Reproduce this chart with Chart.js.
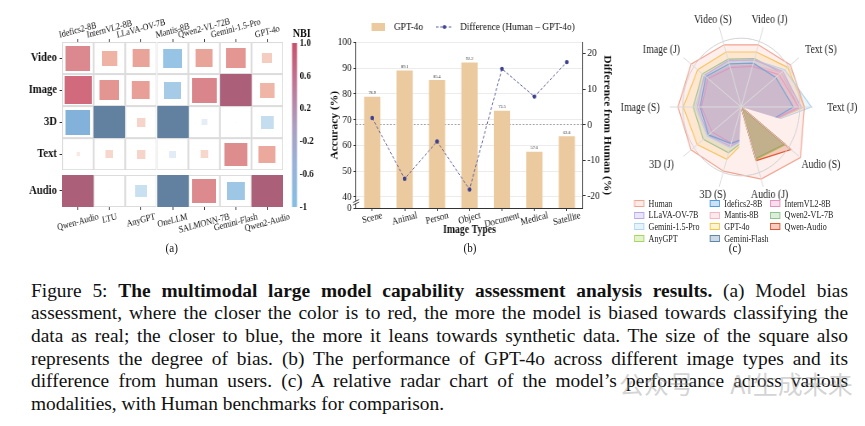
<!DOCTYPE html>
<html><head><meta charset="utf-8">
<script src="https://cdn.jsdelivr.net/npm/chart.js@4"></script>
<style>
html,body{margin:0;padding:0;background:#fff;width:865px;height:426px;overflow:hidden;position:relative;}
#panels{position:absolute;left:0;top:0;width:1018px;height:272px;transform:scaleX(0.85);transform-origin:0 0;}
#panels canvas{position:absolute;}
.t{position:absolute;font-family:'Liberation Serif','Times New Roman',serif;color:#111;white-space:nowrap;}
.ctr{transform:translate(-50%,-50%);}
#caption{position:absolute;left:31px;top:279.6px;width:817px;font-family:'Liberation Serif','Times New Roman',serif;font-size:19.4px;line-height:22.7px;color:#111;}
#caption .ln{white-space:nowrap;display:block;}
.lg{position:absolute;font-family:'Liberation Serif','Times New Roman',serif;font-size:9.5px;color:#222;white-space:nowrap;line-height:10px;}
.lgbox{position:absolute;width:12px;height:7px;box-sizing:border-box;border:1.2px solid;}
#wm{position:absolute;left:619px;top:368px;font-family:'Noto Sans CJK SC',sans-serif;font-size:25px;line-height:30px;color:rgba(150,150,150,0.42);white-space:nowrap;}
</style></head>
<body>
<div id="panels">
  <canvas id="heat" style="left:0;top:0" width="350" height="235"></canvas>
  <canvas id="cbar" style="left:338px;top:30px" width="60" height="190"></canvas>
  <div class="t ctr" style="left:355px;top:33px;font-weight:bold;font-size:12px">NBI</div>
  <canvas id="bars" style="left:379px;top:8px" width="350" height="240"></canvas>
  <canvas id="radar" style="left:723.5px;top:0" width="294" height="200"></canvas>
  <div id="radarLegend"></div>
  <div class="t ctr" style="left:202px;top:248.3px;font-size:13px">(a)</div>
  <div class="t ctr" style="left:553px;top:248.3px;font-size:13px">(b)</div>
  <div class="t ctr" style="left:864.7px;top:248.3px;font-size:13px">(c)</div>
</div>
<div id="caption">
  <div class="ln"><span>Figure 5: <b>The multimodal large model capability assessment analysis results.</b> (a) Model bias</span></div>
  <div class="ln"><span>assessment, where the closer the color is to red, the more the model is biased towards classifying the</span></div>
  <div class="ln"><span>data as real; the closer to blue, the more it leans towards synthetic data. The size of the square also</span></div>
  <div class="ln"><span>represents the degree of bias. (b) The performance of GPT-4o across different image types and its</span></div>
  <div class="ln"><span>difference from human users. (c) A relative radar chart of the model’s performance across various</span></div>
  <div class="ln"><span>modalities, with Human benchmarks for comparison.</span></div>
</div>
<div id="wm">公众号 · AI生成未来</div>
<script>
// ---------------- DATA ----------------
// (a) heatmap: Normalized Bias Index
const modalities = ['Video', 'Image', '3D', 'Text', 'Audio'];
const visualModels = ['Idefics2-8B', 'InternVL2-8B', 'LLaVA-OV-7B', 'Mantis-8B', 'Qwen2-VL-72B', 'Gemini-1.5-Pro', 'GPT-4o'];
const audioModels = ['Qwen-Audio', 'LTU', 'AnyGPT', 'OneLLM', 'SALMONN-7B', 'Gemini-Flash', 'Qwen2-Audio'];
const nbiVideo = [0.77, 0.48, 0.55, -0.60, 0.55, 0.62, 0.32];
const nbiImage = [0.87, 0.63, 0.57, -0.54, 0.78, 1.00, 0.47];
const nbi3D    = [-0.78, -1.00, 0.27, -1.00, -0.20, 0.03, -0.40];
const nbiText  = [0.12, 0.25, 0.27, -0.22, 0.25, 0.72, 0.53];
const nbiAudio = [1.00, 0.03, -0.37, -1.00, 0.75, -0.57, 1.00];
const nbiTicks = [-1, -0.6, -0.2, 0.2, 0.6, 1];

// (b) GPT-4o by image type
const imageTypes = ['Scene', 'Animal', 'Person', 'Object', 'Document', 'Medical', 'Satellite'];
const gpt4oAccuracy = [78.9, 89.1, 85.4, 92.2, 73.5, 57.6, 63.6];
const humanMinusGpt = [1.9, -15.2, -4.7, -18.2, 15.7, 7.9, 17.6];
const accuracyTicks = [40, 50, 60, 70, 80, 90, 100];
const diffTicks = [-20, -10, 0, 10, 20];

// (c) relative radar
const radarAxes = ['Video (S)', 'Video (J)', 'Text (S)', 'Text (J)', 'Audio (S)', 'Audio (J)', '3D (S)', '3D (J)', 'Image (S)', 'Image (J)'];
const rHuman       = [0.95, 0.95, 1.04, 1.08, 1.25, 1.10, 0.98, 1.06, 1.08, 1.06];
const rIdefics2    = [0.66, 0.67, 0.73, 0.89, 0.45, 0.45, 0.56, 0.69, 0.70, 0.75];
const rInternVL2   = [0.60, 0.62, 0.80, 0.98, 0.45, 0.45, 0.55, 0.62, 0.68, 0.70];
const rLLaVAOV     = [0.71, 0.72, 0.88, 1.02, 0.45, 0.45, 0.60, 0.70, 0.75, 0.78];
const rMantis      = [0.62, 0.64, 0.85, 1.03, 0.45, 0.45, 0.58, 0.66, 0.72, 0.72];
const rQwen2VL     = [0.73, 0.74, 0.85, 0.98, 0.45, 0.45, 0.70, 0.80, 0.82, 0.82];
const rGeminiPro   = [0.70, 0.72, 0.92, 1.20, 0.45, 0.45, 0.62, 0.72, 0.78, 0.78];
const rGPT4o       = [0.84, 0.84, 0.98, 1.08, 0.45, 0.45, 0.80, 0.93, 0.99, 0.92];
const rQwenAudio   = [0, 0, 0, 0, 1.05, 0.82, 0, 0, 0, 0];
const rAnyGPT      = [0, 0, 0, 0, 0.93, 0.80, 0, 0, 0, 0];
const rGeminiFlash = [0, 0, 0, 0, 0.92, 0.79, 0, 0, 0, 0];

// ---------------- STYLE ----------------
Chart.defaults.font.family = "'Liberation Serif','Times New Roman',serif";
Chart.defaults.color = '#111';
const SERIF = "'Liberation Serif','Times New Roman',serif";
const SQUEEZE = 0.85;
const rowSlot = [0, 1, 2, 3, 4.15];
const nbiStops = [[-1,[98,128,159]],[-0.8,[128,175,216]],[-0.6,[151,195,228]],[-0.4,[196,221,239]],[-0.2,[229,238,247]],[0,[252,246,244]],[0.15,[250,230,223]],[0.3,[246,207,195]],[0.5,[238,176,162]],[0.6,[228,152,146]],[0.77,[219,136,142]],[0.87,[208,106,124]],[1,[171,95,121]]];
function nbiColor(v){
  for (let i=1;i<nbiStops.length;i++){
    const [v1,c1]=nbiStops[i-1],[v2,c2]=nbiStops[i];
    if (v<=v2){const t=(v-v1)/(v2-v1);return 'rgb('+c1.map((c,k)=>Math.round(c+(c2[k]-c)*t)).join(',')+')';}
  }
  return 'rgb(171,95,121)';
}
function drawRotatedLabels(ctx, scale, labels, edge, side, angleDeg, size, weight){
  const th = angleDeg*Math.PI/180;
  ctx.save();
  ctx.font = (weight||'normal')+' '+size+'px '+SERIF;
  ctx.fillStyle='#111'; ctx.textAlign='center'; ctx.textBaseline='middle';
  labels.forEach((lab,i)=>{
    const x = scale.getPixelForValue(i);
    const w = ctx.measureText(lab).width;
    const bh = w*Math.sin(th)+size*Math.cos(th);
    const y = side==='top' ? edge-bh/2 : edge+bh/2;
    ctx.save(); ctx.translate(x,y); ctx.rotate(-th); ctx.fillText(lab,0,0); ctx.restore();
  });
  ctx.restore();
}
const imgCache = {};
function rectImage(w,h,fill,stroke){
  w=Math.max(1,Math.round(w)); h=Math.max(1,Math.round(h));
  const key=[w,h,fill,stroke].join('|');
  if (imgCache[key]) return imgCache[key];
  const c=document.createElement('canvas'); c.width=w; c.height=h;
  const g=c.getContext('2d');
  if (fill){g.fillStyle=fill; g.fillRect(0,0,w,h);}
  if (stroke){g.strokeStyle=stroke; g.lineWidth=1; g.strokeRect(0.5,0.5,w-1,h-1);}
  imgCache[key]=c; return c;
}
function cellSize(chart){
  const sx=chart.scales.x, sy=chart.scales.y;
  return [Math.abs(sx.getPixelForValue(1)-sx.getPixelForValue(0)), Math.abs(sy.getPixelForValue(1)-sy.getPixelForValue(0))];
}

// ---------------- (a) HEATMAP ----------------
const nbiRows = [nbiVideo, nbiImage, nbi3D, nbiText, nbiAudio];
const heatCells = [], gridCells = [];
nbiRows.forEach((row,r)=>row.forEach((v,c)=>{heatCells.push({x:c,y:rowSlot[r],v:v}); gridCells.push({x:c,y:rowSlot[r]});}));
const heatLabels = {id:'heatLabels', afterDraw(chart){
  const ca=chart.chartArea, ctx=chart.ctx;
  drawRotatedLabels(ctx, chart.scales.xTop, visualModels, ca.top-2, 'top', 13, 9.5);
  drawRotatedLabels(ctx, chart.scales.x, audioModels, ca.bottom+5, 'bottom', 13, 9.5);
}};
const xCommon = {type:'linear', min:-0.5, max:6.5, ticks:{display:false}, grid:{drawOnChartArea:false, tickLength:3, color:'#333'}, border:{display:false},
  afterBuildTicks:s=>{s.ticks=visualModels.map((_,i)=>({value:i}));}};
new Chart(document.getElementById('heat'), {
  type:'scatter',
  data:{datasets:[
    {data:heatCells, clip:false, pointRadius:1, pointHoverRadius:1, borderWidth:0,
     pointStyle:(ctx)=>{const [cw,ch]=cellSize(ctx.chart); const a=Math.abs(ctx.raw.v); return rectImage(a*cw, a*ch, nbiColor(ctx.raw.v), null);}},
    {data:gridCells, clip:false, pointRadius:1, pointHoverRadius:1, borderWidth:0,
     pointStyle:(ctx)=>{const [cw,ch]=cellSize(ctx.chart); return rectImage(cw, ch, null, '#dcdcdc');}}
  ]},
  options:{responsive:false, animation:false, events:[],
    layout:{padding:{left:0,right:17,top:0,bottom:0}},
    plugins:{legend:{display:false}, tooltip:{enabled:false}},
    scales:{
      x:Object.assign({}, xCommon, {position:'bottom', afterFit:s=>{s.height=28;}}),
      xTop:Object.assign({}, xCommon, {position:'top', afterFit:s=>{s.height=42;}}),
      y:{type:'linear', reverse:true, min:-0.5, max:4.65,
        afterBuildTicks:s=>{s.ticks=rowSlot.map(v=>({value:v}));},
        ticks:{callback:(v,i)=>modalities[i], font:{weight:'bold', size:12.5}, color:'#111', padding:3, autoSkip:false},
        grid:{drawOnChartArea:false, tickLength:3, color:'#333'}, border:{display:false},
        afterFit:s=>{s.width=73;}}
    }},
  plugins:[heatLabels]
});

// colorbar
new Chart(document.getElementById('cbar'), {
  type:'bar',
  data:{labels:['NBI'], datasets:[{data:[[-1,1]], barPercentage:1, categoryPercentage:1, borderWidth:0,
    backgroundColor:(ctx)=>{const ca=ctx.chart.chartArea; if(!ca) return '#aaa';
      const g=ctx.chart.ctx.createLinearGradient(0,ca.bottom,0,ca.top);
      g.addColorStop(0,'#85bfe2'); g.addColorStop(0.25,'#98b3da'); g.addColorStop(0.5,'#ad9dc0'); g.addColorStop(0.75,'#bf7796'); g.addColorStop(1,'#c8506d'); return g;}}]},
  options:{responsive:false, animation:false, events:[],
    layout:{padding:{left:5.5,right:0,top:13,bottom:13}},
    plugins:{legend:{display:false}, tooltip:{enabled:false}},
    scales:{
      x:{display:false},
      y:{position:'right', min:-1, max:1,
        afterBuildTicks:s=>{s.ticks=nbiTicks.map(v=>({value:v}));},
        ticks:{callback:v=>v===1?'1.0':(v===-1?'-1':v.toFixed(1)), font:{weight:'bold', size:10.5}, color:'#111', padding:3, autoSkip:false},
        grid:{display:false, drawTicks:false}, border:{display:false},
        afterFit:s=>{s.width=48.5;}}
    }}
});

// ---------------- (b) BAR + LINE ----------------
function legendMarker(kind){
  const c=document.createElement('canvas');
  if(kind==='bar'){c.width=16;c.height=8;const g=c.getContext('2d');g.fillStyle='#ecca9f';g.fillRect(0,0,16,8);}
  else {c.width=20;c.height=6;const g=c.getContext('2d');g.strokeStyle='#5b5f9c';g.lineWidth=1;g.setLineDash([3,2]);g.beginPath();g.moveTo(0,3);g.lineTo(20,3);g.stroke();g.fillStyle='#3e418f';g.beginPath();g.arc(10,3,2,0,Math.PI*2);g.fill();}
  return c;
}
const barExtras = {id:'barExtras', afterDraw(chart){
  const ctx=chart.ctx, ca=chart.chartArea;
  ctx.save(); ctx.font='5px '+SERIF; ctx.fillStyle='#333'; ctx.textAlign='center'; ctx.textBaseline='bottom';
  chart.getDatasetMeta(0).data.forEach((bar,i)=>ctx.fillText(gpt4oAccuracy[i].toFixed(1), bar.x, bar.y-1.2));
  ctx.restore();
  const y=chart.scales.y.getPixelForValue(37.9), x=ca.left;
  ctx.save(); ctx.fillStyle='#fff'; ctx.fillRect(x-4,y-1.2,8,2.4);
  ctx.strokeStyle='#333'; ctx.lineWidth=0.9;
  [-1.3,1.3].forEach(d=>{ctx.beginPath(); ctx.moveTo(x-3.5,y+d+1.5); ctx.lineTo(x+3.5,y+d-1.5); ctx.stroke();});
  ctx.restore();
  drawRotatedLabels(ctx, chart.scales.x, imageTypes, ca.bottom+2.5, 'bottom', 13, 10);
}};
new Chart(document.getElementById('bars'), {
  data:{labels:imageTypes, datasets:[
    {type:'bar', label:'GPT-4o', data:gpt4oAccuracy, backgroundColor:'#ecca9f', borderWidth:0, barPercentage:0.5, categoryPercentage:1, yAxisID:'y', order:2},
    {type:'line', label:'Difference (Human \u2013 GPT-4o)', data:humanMinusGpt, yAxisID:'y2', borderColor:'#5b5f9c', borderWidth:1, borderDash:[3,2],
     pointRadius:2.2, pointBackgroundColor:'#3e418f', pointBorderWidth:0, tension:0, order:1}
  ]},
  options:{responsive:false, animation:false, events:[],
    layout:{padding:{top:1.5,left:0,right:0,bottom:0}},
    plugins:{tooltip:{enabled:false},
      legend:{display:true, labels:{usePointStyle:true, pointStyleWidth:26, padding:12, font:{size:11}, color:'#111',
        generateLabels:(chart)=>chart.data.datasets.map((ds,i)=>({text:ds.label, datasetIndex:i, hidden:false, lineWidth:0,
          fillStyle:'#000', strokeStyle:'#000', fontColor:'#111', pointStyle:legendMarker(ds.type)}))}}},
    scales:{
      x:{ticks:{display:false}, grid:{offset:false, drawOnChartArea:false, tickLength:3, color:'#333'}, border:{color:'#333'},
        title:{display:true, text:'Image Types', font:{size:11.5, weight:'bold'}, color:'#111', padding:{top:0,bottom:11}},
        afterFit:s=>{s.height=40;}},
      y:{position:'left', min:35.7, max:100,
        afterBuildTicks:s=>{s.ticks=[{value:35.7}].concat(accuracyTicks.map(v=>({value:v})));},
        ticks:{callback:v=>v<39?'0':v, font:{size:11}, color:'#111', padding:2, autoSkip:false},
        grid:{color:c=>c.tick && c.tick.value<39?'transparent':'#ececec', tickColor:'#333', tickLength:3}, border:{color:'#333'},
        title:{display:true, text:'Accuracy (%)', font:{size:11.5, weight:'bold'}, color:'#111', padding:{top:8.2,bottom:0}},
        afterFit:s=>{s.width=39.8;}},
      y2:{position:'right', min:-23.4, max:23.1,
        afterBuildTicks:s=>{s.ticks=diffTicks.map(v=>({value:v}));},
        ticks:{font:{size:11}, color:'#111', padding:2, autoSkip:false},
        grid:{color:c=>c.tick && c.tick.value===0?'#9a9a9a':'transparent', tickColor:'#333', tickLength:3}, border:{color:'#333', dash:[2,2]},
        title:{display:true, text:'Difference from Human (%)', font:{size:11.5, weight:'bold'}, color:'#111', padding:{top:8.4,bottom:0}},
        afterFit:s=>{s.width=43.1;}}
    }},
  plugins:[barExtras]
});

// ---------------- (c) RADAR ----------------
const STEP = 5, NPTS = radarAxes.length*STEP, RMAX = 1.22;
const expand = arr => { const out = new Array(NPTS).fill(null); arr.forEach((v,j)=>{out[j*STEP]=v;}); return out; };
const radarLabels = Array.from({length:NPTS},(_,i)=> i%STEP===0 ? radarAxes[i/STEP] : '');
const whiteWedge = Array.from({length:NPTS},(_,i)=> (i>=17 && i<=28) ? RMAX : 0);
const radarSeries = [
  {name:'Human', data:rHuman, color:'#f3a390', fill:'rgba(250,190,178,0.24)', order:3},
  {name:'Idefics2-8B', data:rIdefics2, color:'#4f9de0', fill:'rgba(79,157,224,0.2)', order:5},
  {name:'InternVL2-8B', data:rInternVL2, color:'#e98fc0', fill:'rgba(233,143,192,0.2)', order:6},
  {name:'LLaVA-OV-7B', data:rLLaVAOV, color:'#b9a9ea', fill:'rgba(185,169,234,0.24)', order:7},
  {name:'Mantis-8B', data:rMantis, color:'#f2b7c3', fill:'rgba(242,183,195,0.24)', order:8},
  {name:'Qwen2-VL-7B', data:rQwen2VL, color:'#8cc48c', fill:'rgba(140,196,140,0.22)', order:10},
  {name:'Gemini-1.5-Pro', data:rGeminiPro, color:'#aed6f1', fill:'rgba(174,214,241,0.24)', order:9},
  {name:'GPT-4o', data:rGPT4o, color:'#f6c744', fill:'rgba(250,218,115,0.26)', order:11},
  {name:'Qwen-Audio', data:rQwenAudio, color:'#e0582e', fill:'rgba(224,88,46,0.25)', order:0},
  {name:'AnyGPT', data:rAnyGPT, color:'#a5d65e', fill:'rgba(165,214,94,0.35)', order:1},
  {name:'Gemini-Flash', data:rGeminiFlash, color:'#5a86aa', fill:'rgba(90,134,170,0.35)', order:2}
];
const radarDatasets = radarSeries.map(s=>({label:s.name, data:expand(s.data), borderColor:s.color, backgroundColor:s.fill,
  borderWidth:1.2, pointRadius:0, spanGaps:true, fill:true, order:s.order}));
radarDatasets.push({label:'', data:whiteWedge, borderWidth:0, backgroundColor:'#ffffff', pointRadius:0, fill:true, order:4});
const radarLabelPlugin = {id:'radarLabels', afterDraw(chart){
  const sc=chart.scales.r, ctx=chart.ctx;
  ctx.save(); ctx.font='11.5px '+SERIF; ctx.fillStyle='#222'; ctx.textAlign='center'; ctx.textBaseline='middle';
  radarAxes.forEach((lab,j)=>{
    const idx=j*STEP, a=sc.getPointPosition(idx,0).angle;
    const r=88+13*Math.abs(Math.cos(a));
    ctx.fillText(lab, sc.xCenter + r*Math.cos(a)/SQUEEZE, sc.yCenter + r*Math.sin(a) + 0.5);
  });
  ctx.restore();
}};
new Chart(document.getElementById('radar'), {
  type:'radar',
  data:{labels:radarLabels, datasets:radarDatasets},
  options:{responsive:false, animation:false, events:[],
    layout:{padding:{left:3,right:0,top:23.5,bottom:8.5}},
    plugins:{legend:{display:false}, tooltip:{enabled:false}},
    scales:{r:{min:0, max:RMAX, startAngle:-18,
      afterBuildTicks:s=>{s.ticks=[{value:0},{value:1},{value:RMAX}];},
      ticks:{display:false}, pointLabels:{display:false},
      grid:{circular:true, color:c=>c.tick && c.tick.value===1?'#d2d2d2':'transparent', lineWidth:1, z:1},
      angleLines:{display:true, color:c=>c.index%STEP===0?'#dadada':'transparent', lineWidth:1}
    }}},
  plugins:[radarLabelPlugin]
});
(function(){
  const host=document.getElementById('radarLegend');
  const colX=[746,835,906], rowY=[203.5,215.2,226.9,238.6];
  radarSeries.forEach((s,k)=>{
    const c=k%3, r=Math.floor(k/3);
    const b=document.createElement('div'); b.className='lgbox';
    b.style.left=colX[c]+'px'; b.style.top=(rowY[r]-3.5)+'px'; b.style.borderColor=s.color; b.style.background=s.fill.replace(/[\d.]+\)$/,'0.3)');
    const t=document.createElement('div'); t.className='lg'; t.textContent=s.name;
    t.style.left=(colX[c]+17)+'px'; t.style.top=(rowY[r]-5)+'px';
    host.appendChild(b); host.appendChild(t);
  });
})();

(function(){
  const lines=document.querySelectorAll('#caption .ln');
  lines.forEach((el,i)=>{
    if(i===lines.length-1) return;
    const sp=el.firstElementChild; const w=sp.getBoundingClientRect().width;
    const n=(sp.textContent.match(/ /g)||[]).length;
    sp.style.wordSpacing=((817-w)/n)+'px';
  });
})();
</script>
</body></html>
